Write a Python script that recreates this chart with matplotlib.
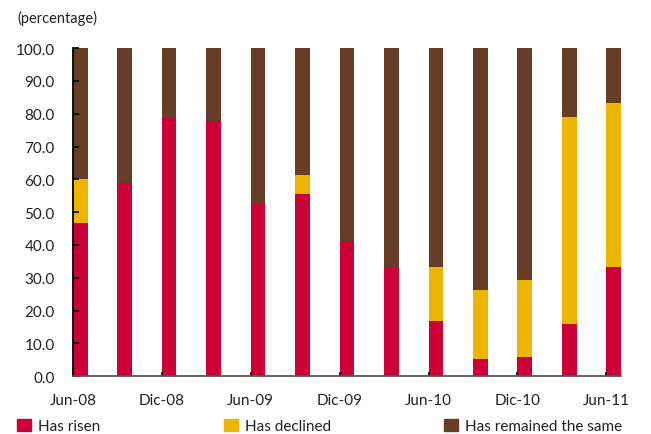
import numpy as np
import matplotlib
matplotlib.use("Agg")
import matplotlib.pyplot as plt
import matplotlib.transforms as mtransforms
from matplotlib.patches import Patch

plt.rcParams["font.family"] = ["Lato", "DejaVu Sans"]

periods = ["Jun-08", "Sep-08", "Dic-08", "Mar-09", "Jun-09", "Sep-09", "Dic-09",
           "Mar-10", "Jun-10", "Sep-10", "Dic-10", "Mar-11", "Jun-11"]
risen = [46.7, 58.8, 78.6, 77.8, 52.6, 55.6, 41.2, 33.3, 16.7, 5.3, 5.9, 15.8, 33.3]
declined = [13.3, 0.0, 0.0, 0.0, 0.0, 5.6, 0.0, 0.0, 16.7, 21.1, 23.5, 63.2, 50.0]
same = [40.0, 41.2, 21.4, 22.2, 47.4, 38.9, 58.8, 66.7, 66.7, 73.7, 70.6, 21.1, 16.7]

series_names = ["Has risen", "Has declined", "Has remained the same"]
c_risen = "#CC0036"
c_declined = "#EDB500"
c_same = "#673D28"

fig = plt.figure(figsize=(6.51, 4.35), dpi=100)
ax = fig.add_axes([0.112, 0.133, 0.842, 0.754])

x = np.arange(len(periods))
w = 0.33
bottom2 = np.array(risen) + np.array(declined)
ax.bar(x, risen, width=w, align="edge", color=c_risen, linewidth=0)
ax.bar(x, declined, width=w, bottom=risen, align="edge", color=c_declined, linewidth=0)
ax.bar(x, same, width=w, bottom=bottom2, align="edge", color=c_same, linewidth=0)

ax.set_xlim(0, len(periods) - 1 + w)
ax.set_ylim(0, 100)
ax.set_yticks(np.arange(0, 101, 10))
ax.set_yticklabels([f"{v:.1f}" for v in np.arange(0, 101, 10)], fontsize=11, color="#222222")
ax.set_xticks(x[::2])
ax.set_xticklabels(periods[::2], fontsize=11, color="#222222")

# shift x labels a little to the right, as in the original
offset = mtransforms.ScaledTranslation(9 / 100, 0, fig.dpi_scale_trans)
for lab in ax.get_xticklabels():
    lab.set_transform(lab.get_transform() + offset)

ax.tick_params(axis="y", direction="in", length=4, width=1.2, pad=13, color="black")
ax.tick_params(axis="x", direction="in", length=3, width=1.2, pad=12, color="black")

for s in ["top", "right"]:
    ax.spines[s].set_visible(False)
ax.spines["left"].set_color("black")
ax.spines["left"].set_linewidth(1.3)
ax.spines["bottom"].set_color("#555555")
ax.spines["bottom"].set_linewidth(1.3)

fig.text(0.026, 0.958, "(percentage)", fontsize=10.5, color="#222222", va="center", ha="left")

# legend entries placed separately to match uneven spacing
for name, col, xpos in zip(series_names, [c_risen, c_declined, c_same], [17, 224, 444]):
    fig.legend([Patch(color=col)], [name], loc="center left",
               bbox_to_anchor=(xpos / 651, 1 - 427 / 435), frameon=False,
               fontsize=11, handlelength=0.9, handleheight=0.9, handletextpad=0.5,
               borderpad=0, borderaxespad=0, labelcolor="#222222")

fig.savefig("out.png", dpi=100)
